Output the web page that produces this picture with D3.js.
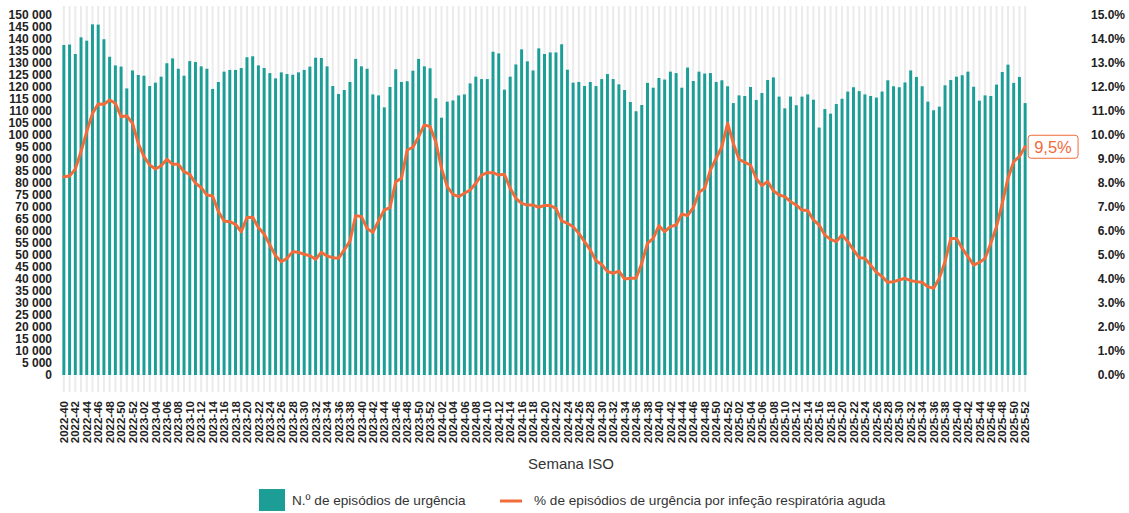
<!DOCTYPE html>
<html>
<head>
<meta charset="utf-8">
<script src="https://cdn.jsdelivr.net/npm/d3@7"></script>
<style>
  html, body { margin: 0; padding: 0; background: #fff; }
  svg { display: block; }
  text { font-family: "Liberation Sans", Arial, sans-serif; }
</style>
</head>
<body>
<svg id="chart" width="1129" height="513"></svg>
<script>
// ---- Data ----
const years = [2022, 2023, 2024, 2025];
const firstWeek = 40;
const weeksPerYear = 52;

// N.º de episódios de urgência (weekly counts)
const episodes2022 = [137500, 137700, 133750, 140700, 139300, 146100, 146000, 139900, 132600, 129000, 128500, 119400, 126900];
const episodes2023 = [125000, 124700, 120400, 121800, 124300, 129900, 131900, 127600, 124700, 130800, 130400, 128600, 127600, 119200, 122100, 126400, 127100, 127100, 127900, 132400, 132800, 129000, 127900, 125800, 123600, 126100, 125400, 125100, 126100, 127100, 128500, 132200, 132100, 128600, 120400, 117100, 118750, 122100, 131700, 128600, 127600, 116900, 116500, 111500, 120000, 127400, 122100, 122400, 126800, 131700, 128600, 127800];
const episodes2024 = [115300, 107200, 113900, 114400, 116500, 116900, 121500, 124300, 123300, 123300, 134700, 134000, 118900, 124300, 129400, 135700, 130700, 126900, 136100, 133750, 134400, 134400, 137800, 127200, 121800, 122100, 120400, 122100, 120400, 123300, 125400, 123300, 121100, 118750, 113750, 109900, 112500, 121700, 119700, 123750, 123100, 126400, 125800, 119700, 128100, 122500, 126400, 125600, 125800, 122100, 122800, 120300];
const episodes2025 = [113300, 116500, 116250, 120000, 114600, 117500, 122900, 124000, 116000, 111100, 116000, 112400, 116000, 116900, 114700, 103100, 110800, 108900, 112900, 115100, 118100, 119900, 118300, 116900, 116250, 115600, 118100, 122800, 120300, 119900, 121900, 126900, 124200, 120300, 113900, 110300, 111800, 120700, 122900, 124300, 124900, 126400, 120100, 114300, 116500, 116250, 121000, 126250, 129300, 121700, 124200, 113300];

// % de episódios de urgência por infeção respiratória aguda
const pct2022 = [8.26, 8.29, 8.58, 9.31, 10.14, 10.90, 11.29, 11.28, 11.46, 11.32, 10.76, 10.80, 10.49];
const pct2023 = [9.65, 9.10, 8.75, 8.58, 8.72, 8.99, 8.78, 8.78, 8.47, 8.36, 7.99, 7.81, 7.50, 7.46, 6.81, 6.42, 6.39, 6.28, 5.97, 6.56, 6.57, 6.15, 5.875, 5.42, 4.97, 4.72, 4.86, 5.14, 5.11, 5.03, 4.97, 4.82, 5.11, 4.96, 4.89, 4.86, 5.21, 5.58, 6.64, 6.60, 6.11, 5.94, 6.42, 6.875, 6.97, 8.06, 8.19, 9.375, 9.49, 9.93, 10.42, 10.35];
const pct2024 = [9.72, 8.61, 7.85, 7.53, 7.43, 7.57, 7.71, 7.99, 8.33, 8.43, 8.43, 8.33, 8.36, 7.78, 7.36, 7.15, 7.08, 7.08, 6.99, 7.06, 7.06, 6.94, 6.42, 6.32, 6.18, 5.90, 5.56, 5.21, 4.76, 4.61, 4.31, 4.24, 4.33, 4.00, 4.03, 4.03, 4.65, 5.49, 5.69, 6.22, 5.97, 6.18, 6.25, 6.71, 6.64, 6.97, 7.61, 7.78, 8.54, 9.03, 9.51, 10.49];
const pct2025 = [9.65, 8.99, 8.86, 8.75, 8.19, 7.89, 8.06, 7.68, 7.50, 7.43, 7.22, 7.08, 6.875, 6.85, 6.46, 6.25, 5.83, 5.65, 5.56, 5.83, 5.56, 5.21, 4.89, 4.86, 4.58, 4.28, 4.10, 3.86, 3.89, 3.96, 4.03, 3.93, 3.89, 3.86, 3.68, 3.61, 4.03, 4.72, 5.69, 5.69, 5.28, 4.93, 4.58, 4.69, 4.86, 5.49, 6.18, 7.15, 8.19, 8.89, 9.10, 9.51];

const leftTicks = d3.range(0, 150001, 5000);
const rightTicks = d3.range(0, 15.01, 1);
const lastLabel = "9,5%";
const xTitle = "Semana ISO";
const legendBar = "N.º de episódios de urgência";
const legendLine = "% de episódios de urgência por infeção respiratória aguda";

// ---- Build rows ----
const episodes = [].concat(episodes2022, episodes2023, episodes2024, episodes2025);
const pct = [].concat(pct2022, pct2023, pct2024, pct2025);
const weeks = [];
years.forEach(y => {
  const start = y === 2022 ? firstWeek : 1;
  for (let w = start; w <= weeksPerYear; w++) weeks.push(y + "-" + String(w).padStart(2, "0"));
});
const rows = weeks.map((w, i) => ({ week: w, n: episodes[i], p: pct[i] }));

// ---- Layout ----
const svg = d3.select("#chart");
const teal = "#1c9e97";
const orange = "#f26b3a";
const plotTop = 15, plotBottom = 375;

const x = d3.scaleBand().domain(weeks).range([61, 1028]).paddingInner(0.48).paddingOuter(0.24);
const yL = d3.scaleLinear().domain([0, 150000]).range([plotBottom, plotTop]);
const yR = d3.scaleLinear().domain([0, 15]).range([plotBottom, plotTop]);
const cx = d => x(d) + x.bandwidth() / 2;

// background stripes
svg.append("g").selectAll("rect").data(rows).join("rect")
  .attr("x", d => cx(d.week) - 1)
  .attr("width", 2)
  .attr("y", 6)
  .attr("height", 392 - 6)
  .attr("fill", "#ebebeb");

// bars
svg.append("g").selectAll("rect").data(rows).join("rect")
  .attr("x", d => x(d.week))
  .attr("width", x.bandwidth())
  .attr("y", d => yL(d.n))
  .attr("height", d => yL(0) - yL(d.n))
  .attr("fill", teal);

// line
const line = d3.line().x(d => cx(d.week)).y(d => yR(d.p));
svg.append("path").datum(rows)
  .attr("d", line)
  .attr("fill", "none")
  .attr("stroke", orange)
  .attr("stroke-width", 3)
  .attr("stroke-linejoin", "round")
  .attr("stroke-linecap", "round");

// left axis
const fmt = d3.formatLocale({ decimal: ".", thousands: " ", grouping: [3], currency: ["", ""] }).format(",");
const axL = d3.axisLeft(yL).tickValues(leftTicks).tickFormat(fmt).tickSize(0).tickPadding(0);
const gL = svg.append("g").attr("transform", "translate(52,0)").call(axL);
gL.select(".domain").remove();
gL.selectAll("text").attr("font-size", 12).attr("font-weight", "bold").attr("fill", "#222")
  .attr("font-family", "'Liberation Sans', Arial, sans-serif");

// right axis
const axR = d3.axisRight(yR).tickValues(rightTicks).tickFormat(d => d3.format(".1f")(d) + "%").tickSize(0).tickPadding(0);
const gR = svg.append("g").attr("transform", "translate(1125,0)").call(axR);
gR.select(".domain").remove();
gR.selectAll("text").attr("text-anchor", "end").attr("font-size", 12).attr("font-weight", "bold").attr("fill", "#222")
  .attr("font-family", "'Liberation Sans', Arial, sans-serif");

// x axis labels
const xLabels = weeks.filter(w => +w.slice(5) % 2 === 0);
const axX = d3.axisBottom(x).tickValues(xLabels).tickSize(0).tickPadding(0);
const gX = svg.append("g").attr("transform", "translate(0,401)").call(axX);
gX.select(".domain").remove();
gX.selectAll("text")
  .attr("transform", "rotate(-90)")
  .attr("text-anchor", "end")
  .attr("x", 0).attr("y", 0).attr("dy", "0.36em")
  .attr("font-size", 11.5).attr("font-weight", "bold").attr("fill", "#222")
  .attr("font-family", "'Liberation Sans', Arial, sans-serif");

// x title
svg.append("text").attr("x", 571).attr("y", 469).attr("text-anchor", "middle")
  .attr("font-size", 15).attr("fill", "#333").text(xTitle);

// last value label
const last = rows[rows.length - 1];
const lx = cx(last.week) + 3, ly = yR(last.p);
const lab = svg.append("g");
const lt = lab.append("text").attr("x", lx + 6).attr("y", ly).attr("dy", "0.36em")
  .attr("font-size", 16.5).attr("fill", orange).text(lastLabel);
const bb = lt.node().getBBox();
lab.insert("rect", "text").attr("x", lx).attr("y", ly - 11.5).attr("width", bb.width + 12).attr("height", 23)
  .attr("rx", 3).attr("fill", "#fff").attr("stroke", orange).attr("stroke-width", 1);

// legend
const lg = svg.append("g");
lg.append("rect").attr("x", 259).attr("y", 489).attr("width", 26).attr("height", 22).attr("fill", teal);
lg.append("text").attr("x", 292).attr("y", 505).attr("font-size", 13.6).attr("fill", "#333").text(legendBar);
lg.append("line").attr("x1", 500).attr("x2", 522).attr("y1", 501).attr("y2", 501)
  .attr("stroke", orange).attr("stroke-width", 3);
lg.append("text").attr("x", 534).attr("y", 505).attr("font-size", 13.6).attr("fill", "#333").text(legendLine);
</script>
</body>
</html>
